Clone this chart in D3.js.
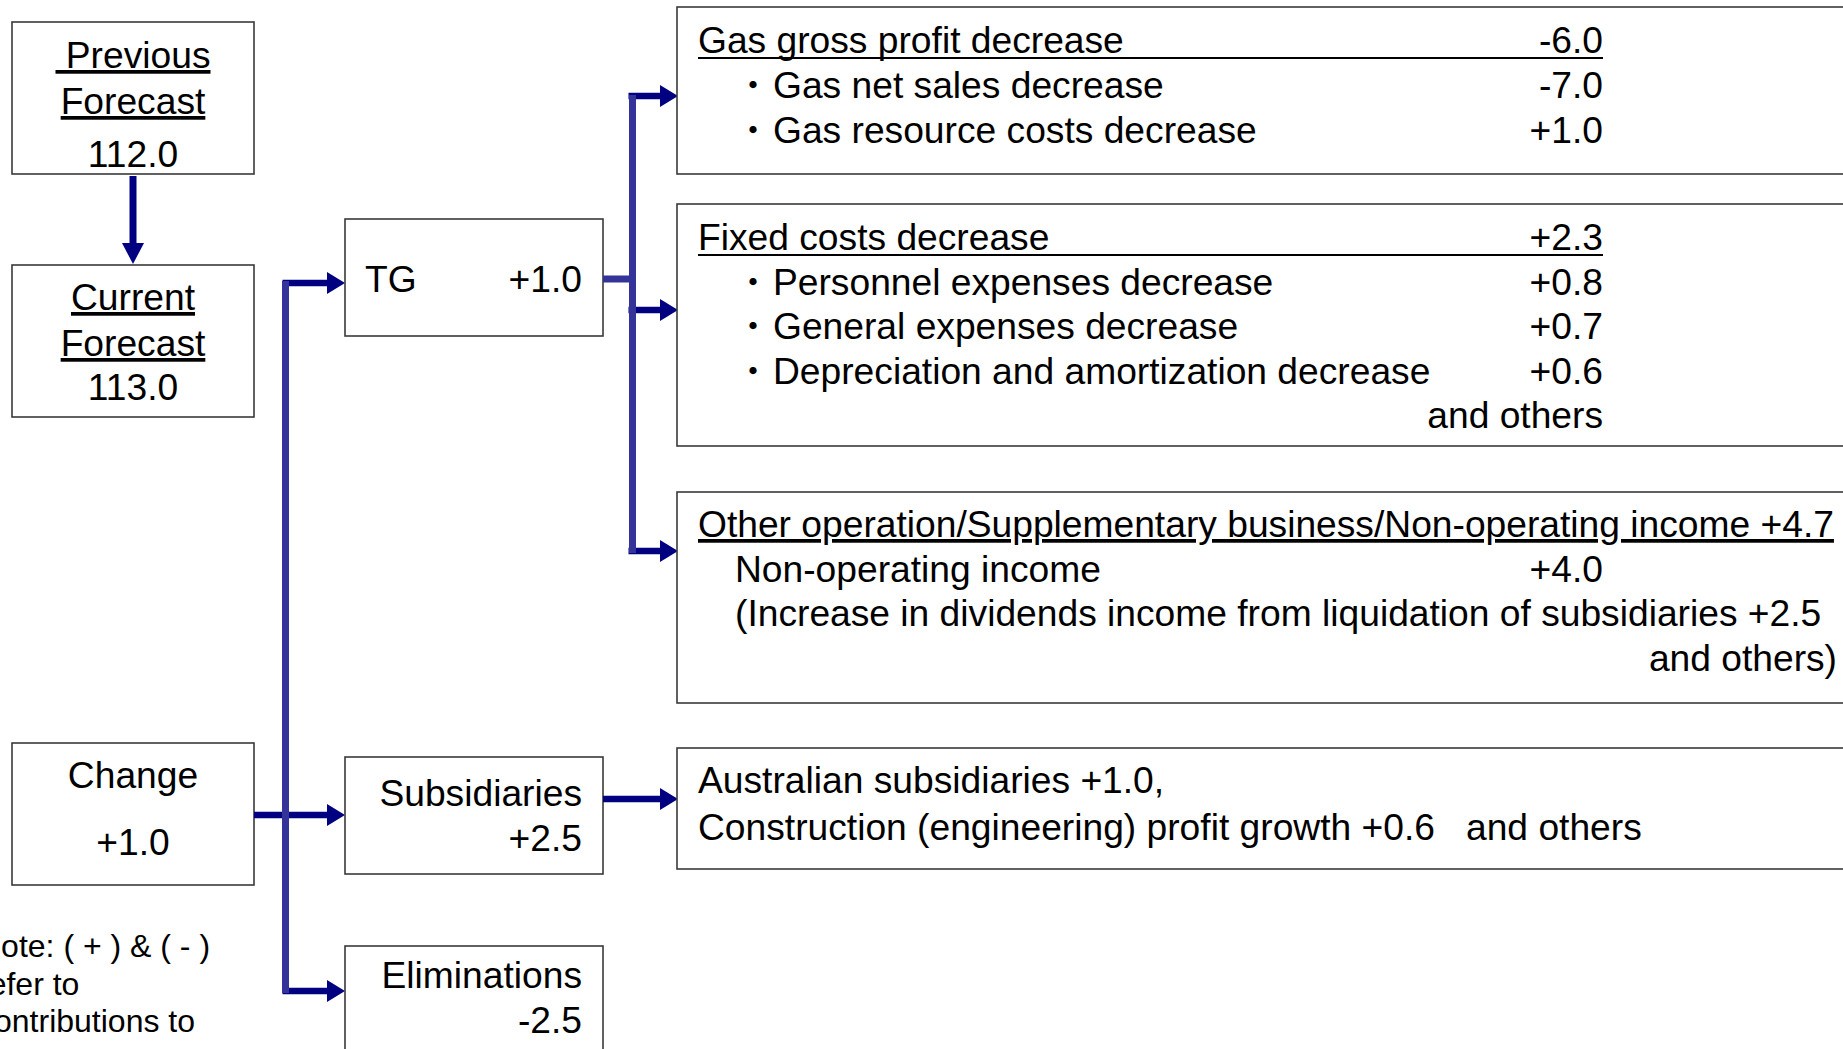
<!DOCTYPE html>
<html lang="en">

<head>
    <meta charset="utf-8">
    <title>Forecast change breakdown</title>
    <script src="https://d3js.org/d3.v7.min.js"></script>
    <style>
        body { margin: 0; background: #fff; }
        text { font-family: "Liberation Sans", Arial, sans-serif; fill: #000; }
    </style>
</head>

<body>
    <script type="text/javascript">
        var w = 1843;
        var h = 1049;

        // data
        var forecastLabels = [["Previous", "Forecast"], ["Current", "Forecast"]];
        var forecastValues = [112.0, 113.0];
        var changeValue = 1.0;
        var segments = ["TG", "Subsidiaries", "Eliminations"];
        var segmentValues = [1.0, 2.5, -2.5];
        var tgHeadings = ["Gas gross profit decrease", "Fixed costs decrease",
            "Other operation/Supplementary business/Non-operating income"];
        var tgHeadingValues = [-6.0, 2.3, 4.7];
        var gasItems = ["Gas net sales decrease", "Gas resource costs decrease"];
        var gasValues = [-7.0, 1.0];
        var fixedItems = ["Personnel expenses decrease", "General expenses decrease",
            "Depreciation and amortization decrease"];
        var fixedValues = [0.8, 0.7, 0.6];
        var otherItem = "Non-operating income";
        var otherValue = 4.0;
        var otherDetail = "(Increase in dividends income from liquidation of subsidiaries";
        var otherDetailValue = 2.5;
        var subItems = ["Australian subsidiaries", "Construction (engineering) profit growth"];
        var subValues = [1.0, 0.6];
        var noteLines = ["Note: ( + ) & ( - )", "refer to", "contributions to"];

        var loc = d3.formatLocale({ decimal: ".", thousands: ",", grouping: [3], currency: ["", ""], minus: "-" });
        var sgn = loc.format("+.1f");
        var num = loc.format(".1f");

        var NAVY = "#000080", LIGHT = "#333399", BORDER = "#3a3a3a";
        var FS = 37.2;

        var svg = d3.select("body")
            .append("svg").attr("width", w).attr("height", h);

        // line position inside a box
        function rows(first, step) {
            return d3.scaleLinear().domain([0, 1]).range([first, first + step]);
        }

        function box(x, y, bw, bh) {
            svg.append("rect").attr("x", x).attr("y", y).attr("width", bw).attr("height", bh)
                .attr("fill", "#fff").attr("stroke", BORDER).attr("stroke-width", 1.6);
        }

        function label(x, y, s, anchor, extra) {
            var t = svg.append("text").attr("x", x).attr("y", y).text(s)
                .attr("font-size", FS).attr("text-anchor", anchor || "start")
                .style("white-space", "pre");
            if (extra) extra(t);
            return t;
        }

        function underline(t) { t.style("text-decoration", "underline"); }

        // arrows: shaft + head
        function hArrow(x1, x2, y) {
            svg.append("line").attr("x1", x1).attr("x2", x2 - 16).attr("y1", y).attr("y2", y)
                .attr("stroke", NAVY).attr("stroke-width", 6.5);
            svg.append("path").attr("d", d3.line()([[x2 - 18, y - 11], [x2, y], [x2 - 18, y + 11]]) + "Z")
                .attr("fill", NAVY);
        }
        function vArrow(x, y1, y2) {
            svg.append("line").attr("x1", x).attr("x2", x).attr("y1", y1).attr("y2", y2 - 18)
                .attr("stroke", NAVY).attr("stroke-width", 7);
            svg.append("path").attr("d", d3.line()([[x - 11, y2 - 21], [x, y2], [x + 11, y2 - 21]]) + "Z")
                .attr("fill", NAVY);
        }
        function connector(x1, y1, x2, y2) {
            svg.append("line").attr("x1", x1).attr("x2", x2).attr("y1", y1).attr("y2", y2)
                .attr("stroke", LIGHT).attr("stroke-width", 7);
        }

        // left column
        var leftX = 12, leftW = 242, cx = leftX + leftW / 2;
        var fTops = [22, 265];
        var fRows = [rows(68, 46), rows(310, 46)];
        forecastLabels.forEach(function (lines, i) {
            box(leftX, fTops[i], leftW, 152);
            label(cx, fRows[i](0), (i === 0 ? " " : "") + lines[0], "middle", underline);
            label(cx, fRows[i](1), lines[1], "middle", underline);
            label(cx, i === 0 ? 167 : 400, num(forecastValues[i]), "middle");
        });
        vArrow(cx, 176, 264);

        box(leftX, 743, leftW, 142);
        label(cx, 788, "Change", "middle");
        label(cx, 855, sgn(changeValue), "middle");

        noteLines.forEach(function (s, i) {
            svg.append("text").attr("x", -22).attr("y", 957 + i * 37.5).text(s)
                .attr("font-size", 32).style("white-space", "pre");
        });

        // middle column
        var midX = 345, midW = 258, midR = midX + midW - 21;
        var segTops = [219, 757, 946];
        var segH = [117, 117, 140];
        var spineX = 285.5;
        var segArrowY = [283, 815, 991];

        hArrow(254, midX, segArrowY[1]);
        hArrow(spineX - 3, midX, segArrowY[0]);
        hArrow(spineX - 3, midX, segArrowY[2]);
        connector(spineX, segArrowY[0] - 2, spineX, segArrowY[2] + 2);

        segments.forEach(function (s, i) {
            box(midX, segTops[i], midW, segH[i]);
        });
        label(365, 292, segments[0]);
        label(midR, 292, sgn(segmentValues[0]), "end");
        label(midR, 806, segments[1], "end");
        label(midR, 851, sgn(segmentValues[1]), "end");
        label(midR, 988, segments[2], "end");
        label(midR, 1033, sgn(segmentValues[2]), "end");

        // right column
        var rX = 677, rW = 1300, textX = 698, bulletX = 753, itemX = 773, valX = 1603;
        var rTops = [7, 204, 492, 748];
        var rH = [167, 242, 211, 121];
        var branchX = 632.5;
        var branchY = [96, 310, 551];

        connector(603, 279, branchX, 279);
        branchY.forEach(function (y) { hArrow(branchX - 4, rX + 1, y); });
        connector(branchX, branchY[0] - 1, branchX, branchY[2] + 2);
        hArrow(603, rX + 1, 799);

        rTops.forEach(function (t, i) { box(rX, t, rW, rH[i]); });

        function headerLine(y, s, v) {
            label(textX, y, s);
            label(valX, y, sgn(v), "end");
            svg.append("line").attr("x1", textX).attr("x2", valX).attr("y1", y + 5).attr("y2", y + 5)
                .attr("stroke", "#000").attr("stroke-width", 2.2);
        }
        function bulletLine(y, s, v) {
            svg.append("text").attr("x", bulletX).attr("y", y).text("・")
                .attr("font-size", 34).attr("text-anchor", "middle")
                .style("font-family", "'Noto Sans CJK JP', sans-serif");
            label(itemX, y, s);
            label(valX, y, sgn(v), "end");
        }

        var r1 = rows(53, 45);
        headerLine(r1(0), tgHeadings[0], tgHeadingValues[0]);
        gasItems.forEach(function (s, i) { bulletLine(r1(i + 1), s, gasValues[i]); });

        var r2 = rows(250, 44.5);
        headerLine(r2(0), tgHeadings[1], tgHeadingValues[1]);
        fixedItems.forEach(function (s, i) { bulletLine(r2(i + 1), s, fixedValues[i]); });
        label(valX, r2(4), "and others", "end");

        var r3 = rows(537, 44.5);
        label(textX, r3(0), tgHeadings[2] + " " + sgn(tgHeadingValues[2]), "start", underline);
        label(735, r3(1), otherItem);
        label(valX, r3(1), sgn(otherValue), "end");
        label(735, r3(2), otherDetail + " " + sgn(otherDetailValue));
        label(1837, r3(3), "and others)", "end");

        var r4 = rows(793, 47);
        label(textX, r4(0), subItems[0] + " " + sgn(subValues[0]) + ",");
        label(textX, r4(1), subItems[1] + " " + sgn(subValues[1]));
        label(1466, r4(1), "and others");
    </script>
</body>

</html>
